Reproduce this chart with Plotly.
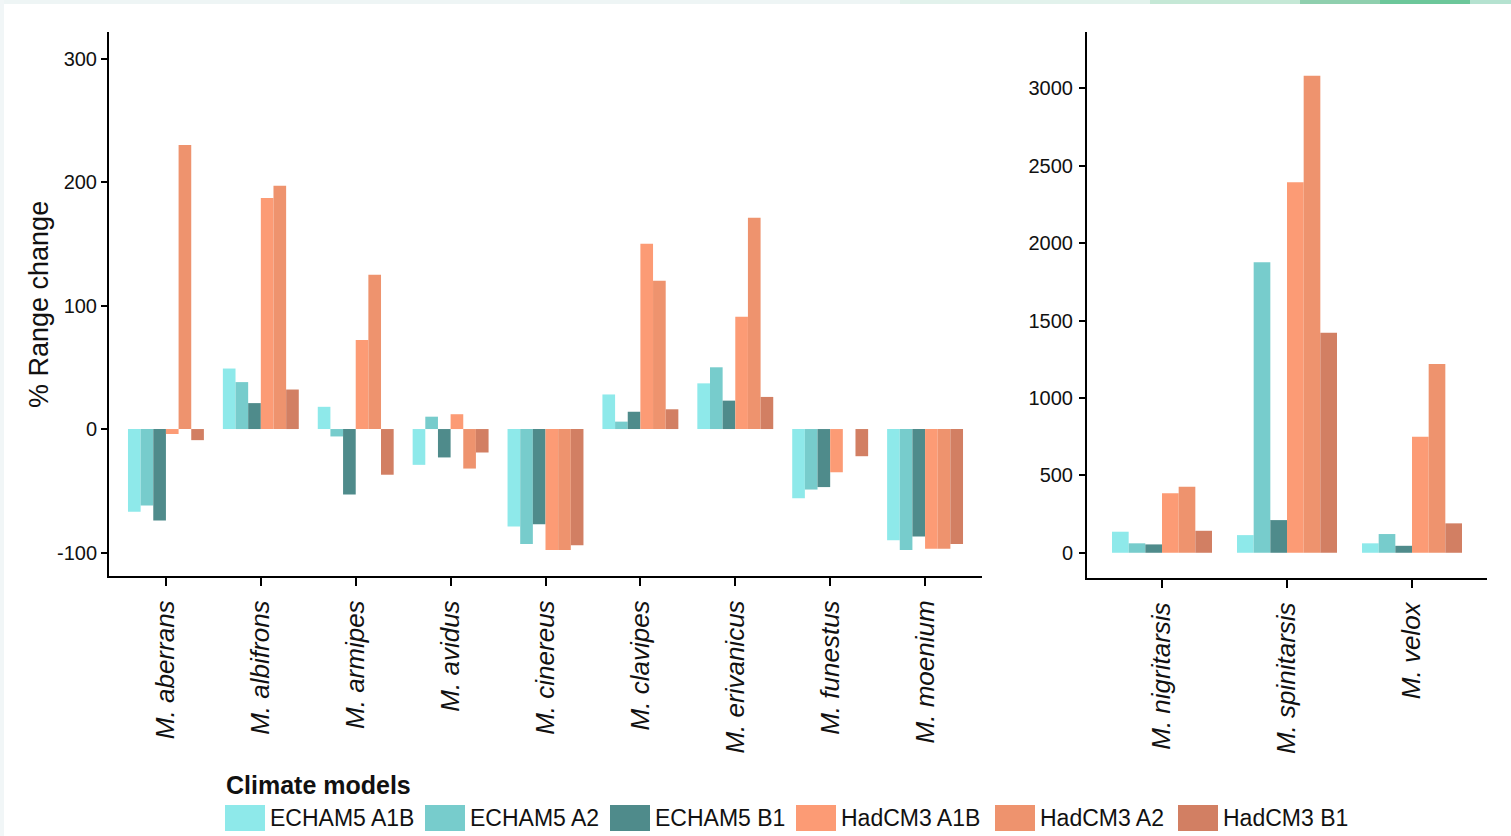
import plotly.graph_objects as go

# Species in each panel
species_left = ["M. aberrans", "M. albifrons", "M. armipes", "M. avidus", "M. cinereus",
                "M. clavipes", "M. erivanicus", "M. funestus", "M. moenium"]
species_right = ["M. nigritarsis", "M. spinitarsis", "M. velox"]

# Climate model / scenario series
models = ["ECHAM5 A1B", "ECHAM5 A2", "ECHAM5 B1", "HadCM3 A1B", "HadCM3 A2", "HadCM3 B1"]
colors = ["#8ee9ea", "#77cccc", "#4f8b8b", "#fc9b75", "#ee936e", "#d27f63"]

# % range change, left panel (one list per model, ordered as species_left)
echam5_a1b_left = [-67, 49, 18, -29, -79, 28, 37, -56, -90]
echam5_a2_left = [-62, 38, -6, 10, -93, 6, 50, -49, -98]
echam5_b1_left = [-74, 21, -53, -23, -77, 14, 23, -47, -87]
hadcm3_a1b_left = [-4, 187, 72, 12, -98, 150, 91, -35, -97]
hadcm3_a2_left = [230, 197, 125, -32, -98, 120, 171, 0, -97]
hadcm3_b1_left = [-9, 32, -37, -19, -94, 16, 26, -22, -93]

# % range change, right panel (ordered as species_right)
echam5_a1b_right = [136, 114, 61]
echam5_a2_right = [61, 1876, 121]
echam5_b1_right = [54, 211, 45]
hadcm3_a1b_right = [384, 2393, 749]
hadcm3_a2_right = [426, 3081, 1219]
hadcm3_b1_right = [142, 1421, 190]

# Axis ticks
ticks_left = [-100, 0, 100, 200, 300]
tick_labels_left = ["-100", "0", "100", "200", "300"]
ticks_right = [0, 500, 1000, 1500, 2000, 2500, 3000]
tick_labels_right = ["0", "500", "1000", "1500", "2000", "2500", "3000"]

left_series = [echam5_a1b_left, echam5_a2_left, echam5_b1_left,
               hadcm3_a1b_left, hadcm3_a2_left, hadcm3_b1_left]
right_series = [echam5_a1b_right, echam5_a2_right, echam5_b1_right,
                hadcm3_a1b_right, hadcm3_a2_right, hadcm3_b1_right]

FONT = "Arial, Liberation Sans, sans-serif"
W, H = 1511, 836

fig = go.Figure()
for name, col, vals in zip(models, colors, left_series):
    fig.add_trace(go.Bar(x=species_left, y=vals, name=name, marker_color=col,
                         marker_line_width=0, showlegend=False,
                         xaxis="x", yaxis="y"))
for name, col, vals in zip(models, colors, right_series):
    fig.add_trace(go.Bar(x=species_right, y=vals, name=name, marker_color=col,
                         marker_line_width=0, showlegend=False,
                         xaxis="x2", yaxis="y2"))

axis_common = dict(showline=True, linecolor="black", linewidth=2, mirror=False,
                   showgrid=False, zeroline=False, ticks="outside",
                   tickcolor="black", tickwidth=2)
cat_font = dict(size=26, family=FONT, style="italic", color="#111")
num_font = dict(size=20, family=FONT, color="#111")

fig.update_layout(
    width=W, height=H,
    margin=dict(l=0, r=0, t=0, b=0),
    paper_bgcolor="white", plot_bgcolor="white",
    barmode="group", bargap=0.2, bargroupgap=0,
    font=dict(family=FONT, color="black"),
    xaxis=dict(domain=[109 / W, 982 / W], anchor="y", range=[-0.6, 8.6],
               ticklen=8, ticklabelstandoff=4, tickangle=-90, tickfont=cat_font,
               **axis_common),
    yaxis=dict(domain=[1 - 576 / H, 1 - 32 / H], anchor="x", range=[-119, 321.5],
               tickvals=ticks_left, ticktext=tick_labels_left,
               ticklen=6, ticklabelstandoff=0, tickfont=num_font,
               **axis_common),
    xaxis2=dict(domain=[1087 / W, 1487 / W], anchor="y2", range=[-0.6, 2.6],
                ticklen=8, ticklabelstandoff=4, tickangle=-90, tickfont=cat_font,
                **axis_common),
    yaxis2=dict(domain=[1 - 578 / H, 1 - 32 / H], anchor="x2", range=[-163, 3364],
                tickvals=ticks_right, ticktext=tick_labels_right,
                ticklen=6, ticklabelstandoff=2, tickfont=num_font,
                **axis_common),
)

# Y-axis title
fig.add_annotation(text="% Range change", x=39 / W, y=1 - 305 / H,
                   xref="paper", yref="paper", xanchor="center", yanchor="middle",
                   textangle=-90, showarrow=False,
                   font=dict(size=27, family=FONT, color="#111"))

# Legend: title, colour swatches and labels
fig.add_annotation(text="<b>Climate models</b>", x=224 / W, y=1 - 785 / H,
                   xref="paper", yref="paper", xanchor="left", yanchor="middle",
                   showarrow=False, font=dict(size=25, family=FONT, color="#111"))
swatch_x = [225, 425, 610, 796, 995, 1178]
for sx, name, col in zip(swatch_x, models, colors):
    fig.add_shape(type="rect", xref="paper", yref="paper",
                  x0=sx / W, x1=(sx + 40) / W, y0=1 - 831 / H, y1=1 - 805 / H,
                  fillcolor=col, line=dict(width=0))
    fig.add_annotation(text=name, x=(sx + 43) / W, y=1 - 818 / H,
                       xref="paper", yref="paper", xanchor="left", yanchor="middle",
                       showarrow=False, font=dict(size=23, family=FONT, color="#111"))

# Thin frame strip along the top and left edge
strip = [(0, 900, "#eef5f5"), (900, 1150, "#e2f2ec"), (1150, 1300, "#c5e8d6"),
         (1300, 1380, "#8fcfae"), (1380, 1470, "#6cc79a"), (1470, 1511, "#b5e2d0")]
for x0, x1, col in strip:
    fig.add_shape(type="rect", xref="paper", yref="paper",
                  x0=x0 / W, x1=x1 / W, y0=1 - 4 / H, y1=1,
                  fillcolor=col, line=dict(width=0), layer="below")
fig.add_shape(type="rect", xref="paper", yref="paper",
              x0=0, x1=4 / W, y0=0, y1=1,
              fillcolor="#f1f6f7", line=dict(width=0), layer="below")

fig.write_html("out.html")
